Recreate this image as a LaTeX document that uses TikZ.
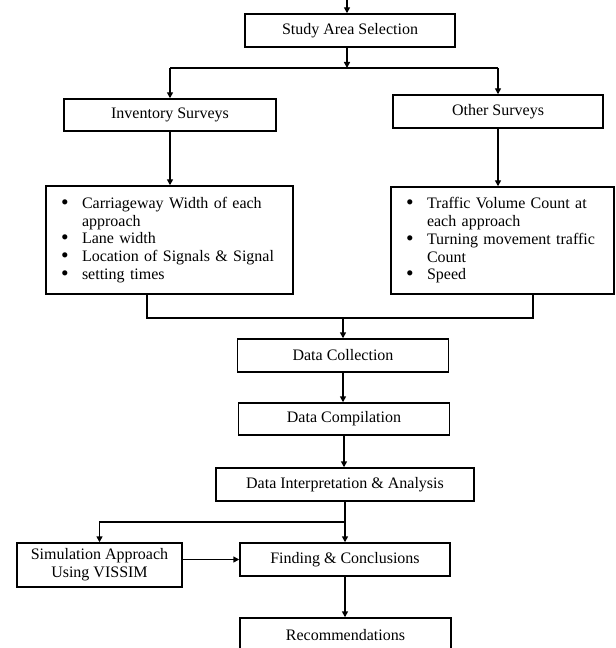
\documentclass[tikz,border=0pt]{standalone}
\usepackage{fontspec}
\setmainfont{Liberation Serif}
\usetikzlibrary{arrows.meta}
\def\bul{\makebox[15.75pt][l]{\smash{\raisebox{-0.1ex}{\scalebox{1.35}{\textbullet}}}}}
\def\hang{\hspace*{15.75pt}}

\begin{document}
\begin{tikzpicture}[x=0.75pt, y=-0.75pt, line width=1.1pt,
		>={Triangle[length=4.5pt,width=4.5pt]},
		box/.style={draw, fill=white, inner sep=0pt, align=center, font=\fontsize{12}{13.3}\selectfont},
		itembox/.style={box, align=left, inner xsep=11.25pt}]
			%%%%% START %%%%%
			
			\useasboundingbox (0, 0) rectangle (615, 648);
			
			\node[box, minimum width=157.5pt, minimum height=24.75pt] (study) at (350, 30.5) {Study Area Selection};
			\node[box, minimum width=159pt, minimum height=24pt] (invent) at (170, 115) {Inventory Surveys};
			\node[box, minimum width=157.5pt, minimum height=24.75pt] (other) at (498, 111.5) {Other Surveys};
			
			\node[itembox, text width=162.75pt, minimum height=81pt] (items) at (169.5, 240)
				{\bul Carriageway Width of each\\ \hang approach\\ \bul Lane width\\ \bul Location of Signals \& Signal\\ \bul setting times};
			\node[itembox, text width=144.75pt, minimum height=80.25pt] (otheritems) at (502.5, 240.5)
				{\bul Traffic Volume Count at\\ \hang each approach\\ \bul Turning movement traffic\\ \hang Count\\ \bul Speed};
			
			\node[box, minimum width=158.25pt, minimum height=24.75pt] (collect) at (343, 355.5) {Data Collection};
			\node[box, minimum width=158.25pt, minimum height=24pt] (compile) at (344, 419) {Data Compilation};
			\node[box, minimum width=193.5pt, minimum height=24.75pt] (analysis) at (345, 484.5) {Data Interpretation \& Analysis};
			\node[box, minimum width=123.75pt, minimum height=33pt] (sim) at (99.5, 565) {Simulation Approach\\Using VISSIM};
			\node[box, minimum width=157.5pt, minimum height=24.75pt] (finding) at (345, 559.5) {Finding \& Conclusions};
			\node[box, minimum width=158.25pt, minimum height=25.5pt] (recom) at (345.5, 635) {Recommendations};
			
			\coordinate (entry) at (347, -5);
			\coordinate (split) at (347, 68);
			\coordinate (splitL) at (170, 68);
			\coordinate (splitR) at (498, 68);
			\coordinate (joinL) at (147, 318);
			\coordinate (joinR) at (533, 318);
			\coordinate (branch) at (345, 522);
			
			\draw[->] (entry) -- (entry |- study.north);
			\draw[->] (split |- study.south) -- (split);
			\draw (splitL) -- (splitR);
			\draw[->] (splitL) -- (invent.north);
			\draw[->] (splitR) -- (other.north);
			
			\draw[->] (invent.south) -- (invent.south |- items.north);
			\draw[->] (other.south) -- (other.south |- otheritems.north);
			
			\draw (items.south -| joinL) -- (joinL) -- (joinR) -- (otheritems.south -| joinR);
			\draw[->] (collect.north |- joinL) -- (collect.north);
			\draw[->] (collect.south) -- (collect.south |- compile.north);
			\draw[->] (compile.south) -- (compile.south |- analysis.north);
			\draw[->] (analysis.south) -- (analysis.south |- finding.north);
			\draw[->] (branch) -| (sim.north);
			\draw[->] (finding.west -| sim.east) -- (finding.west);
			\draw[->] (finding.south) -- (finding.south |- recom.north);
			
			%%%%% END %%%%%
\end{tikzpicture}
\end{document}
